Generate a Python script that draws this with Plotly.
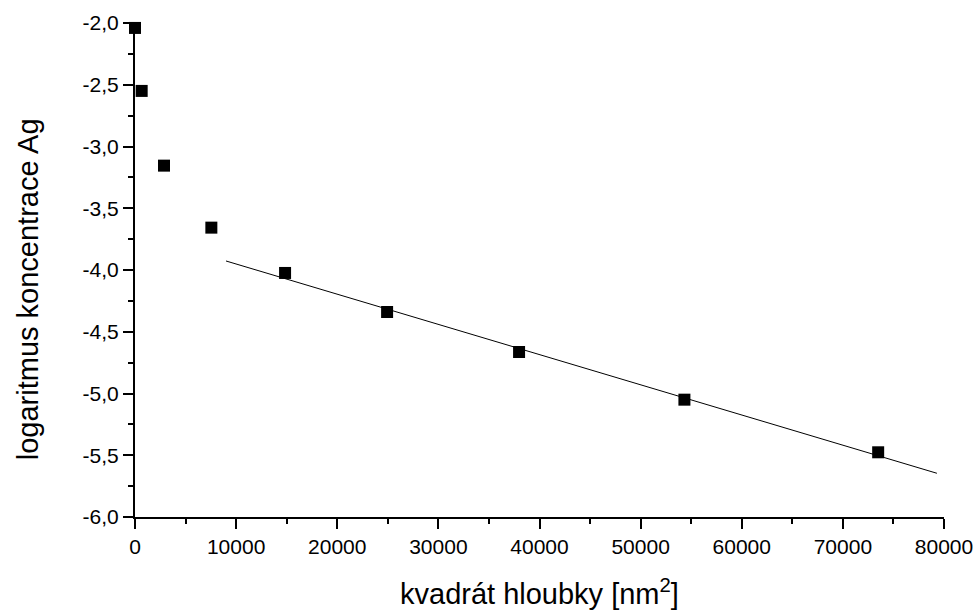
import plotly.graph_objects as go

# data
depth_sq = [0, 660, 2870, 7550, 14840, 24930, 37980, 54330, 73490]
log_conc = [-2.04, -2.55, -3.155, -3.657, -4.024, -4.34, -4.664, -5.05, -5.476]

fit_x = [9000, 79300]
fit_y = [-3.927, -5.646]

x_ticks = [0, 10000, 20000, 30000, 40000, 50000, 60000, 70000, 80000]
y_ticks = [-6.0, -5.5, -5.0, -4.5, -4.0, -3.5, -3.0, -2.5, -2.0]
x_labels = [str(v) for v in x_ticks]
y_labels = [f"{v:.1f}".replace(".", ",") for v in y_ticks]

FONT = "Liberation Sans, Arial, sans-serif"

fig = go.Figure()
fig.add_trace(go.Scatter(x=fit_x, y=fit_y, mode="lines",
                         line=dict(color="black", width=1), cliponaxis=False,
                         showlegend=False))
fig.add_trace(go.Scatter(x=depth_sq, y=log_conc, mode="markers",
                         marker=dict(symbol="square", size=12, color="black"),
                         cliponaxis=False, showlegend=False))

axis_common = dict(showgrid=False, zeroline=False, showline=True, linecolor="black",
                   linewidth=2, ticks="outside", ticklen=10, tickwidth=2, tickcolor="black",
                   automargin=False,
                   tickfont=dict(family=FONT, size=21, color="black"))

fig.update_xaxes(range=[0, 80000], tickvals=x_ticks, ticktext=x_labels,
                 minor=dict(dtick=5000, ticks="outside", ticklen=5, tickwidth=2, tickcolor="black"),
                 **axis_common)
fig.update_yaxes(range=[-6.0, -2.0], tickvals=y_ticks, ticktext=y_labels,
                 minor=dict(dtick=0.25, ticks="outside", ticklen=5, tickwidth=2, tickcolor="black"),
                 **axis_common)

fig.update_layout(
    width=977, height=613,
    margin=dict(l=135, r=33, t=23, b=96),
    paper_bgcolor="white", plot_bgcolor="white",
    font=dict(family=FONT, color="black"),
    annotations=[
        dict(text="kvadrát hloubky [nm<sup>2</sup>]", xref="paper", yref="paper",
             x=0.5, y=-0.152, xanchor="center", yanchor="middle", showarrow=False,
             font=dict(family=FONT, size=29, color="black")),
        dict(text="logaritmus koncentrace Ag", xref="paper", yref="paper",
             x=-0.132, y=0.4615, xanchor="center", yanchor="middle", textangle=-90,
             showarrow=False, font=dict(family=FONT, size=29, color="black")),
    ],
)

fig.write_html("out.html")
